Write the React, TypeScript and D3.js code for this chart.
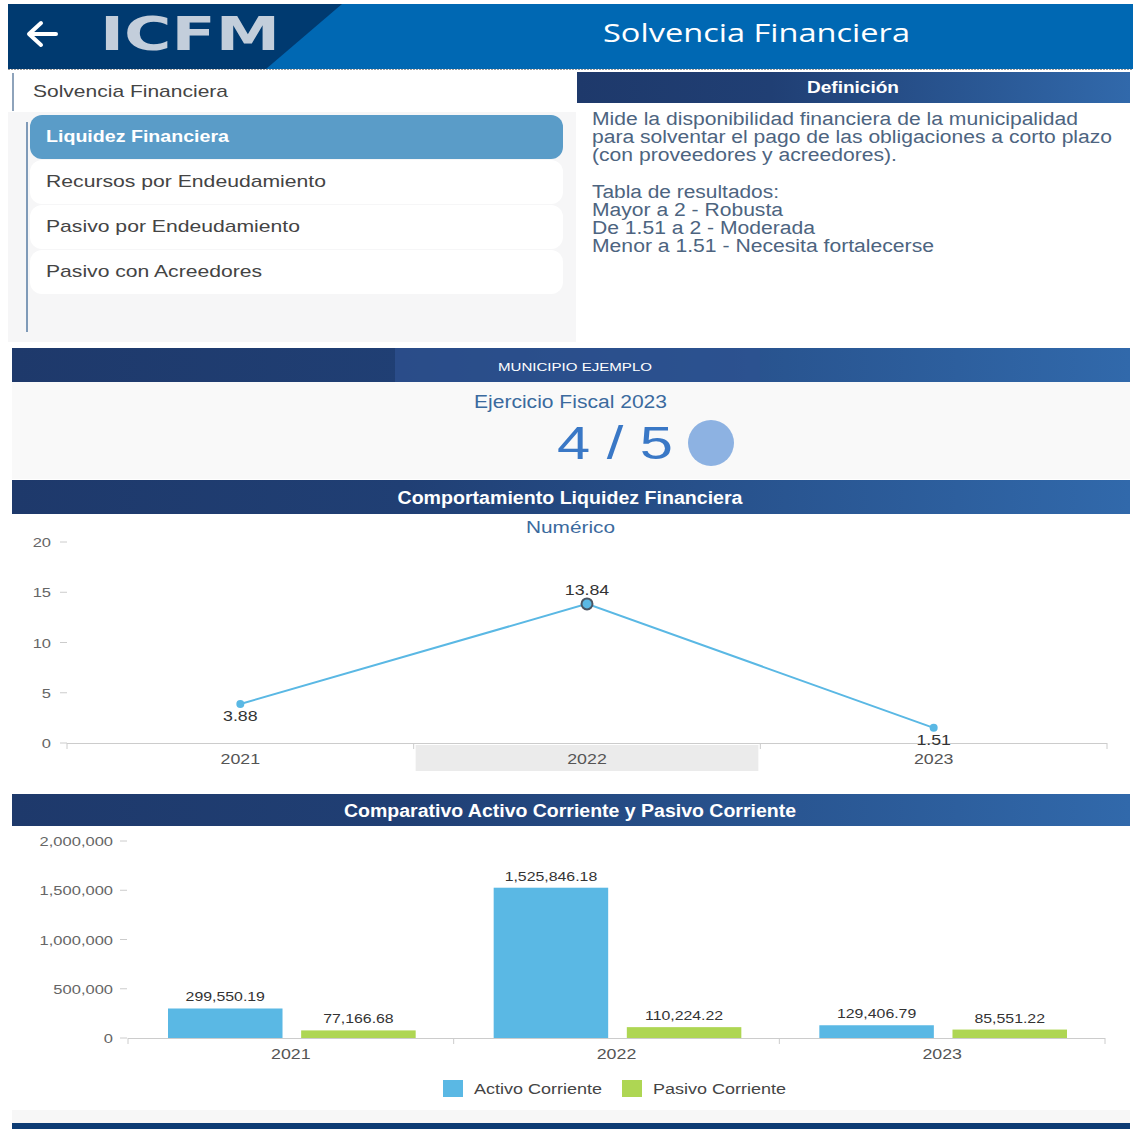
import * as d3 from 'd3';

const years = ['2021', '2022', '2023'];
const liquidez = [3.88, 13.84, 1.51];
const activoCorriente = [299550.19, 1525846.18, 129406.79];
const pasivoCorriente = [77166.68, 110224.22, 85551.22];
const seriesNames = ['Activo Corriente', 'Pasivo Corriente'];
const lineTicks = [0, 5, 10, 15, 20];
const barTicks = [0, 500000, 1000000, 1500000, 2000000];
const menuItems = ['Liquidez Financiera', 'Recursos por Endeudamiento', 'Pasivo por Endeudamiento', 'Pasivo con Acreedores'];
const definicion = [
    'Mide la disponibilidad financiera de la municipalidad',
    'para solventar el pago de las obligaciones a corto plazo',
    '(con proveedores y acreedores).',
    '',
    'Tabla de resultados:',
    'Mayor a 2 - Robusta',
    'De 1.51 a 2 - Moderada',
    'Menor a 1.51 - Necesita fortalecerse',
];
const defWidths = [486, 520, 305, 0, 187, 191, 223, 342];

const COLORS = ['#5ab8e4', '#aed653'];
const FONT = '"Liberation Sans", Arial, sans-serif';
const W = 1133, H = 1129;
const SX = 1.27; // the page is a bit wide, chart texts are stretched

// text stretched horizontally around its anchor
function SText({ x, y, s = SX, children, ...rest }: any) {
    return (
        <text transform={`translate(${x},${y}) scale(${s},1)`} fontFamily={FONT} {...rest}>{children}</text>
    );
}

function SectionBar({ y, h, title, width }: { y: number; h: number; title: string; width: number }) {
    return (
        <g>
            <rect x={12} y={y} width={1118} height={h} fill="url(#secGrad)" />
            <text x={570 - width / 2} y={y + h / 2 + 6.5} fill="#fff" fontSize={18}
                fontWeight={700} fontFamily={FONT} textLength={width} lengthAdjust="spacingAndGlyphs">{title}</text>
        </g>
    );
}

export default function App() {
    // line chart scales
    const lx = d3.scaleBand().domain(years).range([67, 1107]);
    const ly = d3.scaleLinear().domain([0, 20]).range([743, 542]);
    const line = d3.line<number>().x((_, i) => lx(years[i])! + lx.bandwidth() / 2).y(d => ly(d));

    // bar chart scales
    const bx = d3.scaleBand().domain(years).range([128, 1105]);
    const bs = d3.scaleBand().domain(seriesNames).range([40, bx.bandwidth() - 38]).paddingInner(0.14);
    const by = d3.scaleLinear().domain([0, 2000000]).range([1038, 841]);
    const fmt = d3.format(',.2f');
    const fmtTick = d3.format(',');
    const barData = [activoCorriente, pasivoCorriente];

    return (
        <div style={{ position: 'absolute', left: 0, top: 0 }}>
            <svg width={W} height={H} style={{ display: 'block', background: '#fff' }}>
                <defs>
                    <linearGradient id="secGrad" x1="0" x2="1" y1="0" y2="0">
                        <stop offset="0" stopColor="#1e396b" />
                        <stop offset="0.35" stopColor="#203f74" />
                        <stop offset="1" stopColor="#3169ab" />
                    </linearGradient>
                </defs>

                {/* header */}
                <rect x={8} y={4} width={1125} height={65} fill="#0068b3" />
                <path d="M8,4 L342,4 L266,69 L8,69 Z" fill="#003a70" />
                <line x1={8} x2={1133} y1={69.5} y2={69.5} stroke="#999" strokeDasharray="2,1" />
                <path d="M56,34 L30,34 M41,23 L29,34 L41,45" fill="none" stroke="#fff" strokeWidth={4}
                    strokeLinecap="round" strokeLinejoin="round" />
                <text x={100} y={50} fill="#c3cedb" fontSize={46} fontWeight={700} fontFamily='"DejaVu Sans", sans-serif'
                    textLength={180} lengthAdjust="spacingAndGlyphs">ICFM</text>
                <text x={603} y={42} fill="#fff" fontSize={25} fontFamily='"Open Sans", sans-serif'
                    textLength={307} lengthAdjust="spacingAndGlyphs">Solvencia Financiera</text>

                {/* sidebar */}
                <rect x={8} y={112} width={568} height={230} fill="#f6f6f7" />
                <rect x={12} y={73} width={2} height={38} fill="#8ea3bb" />
                <text x={33} y={97} fill="#444" fontSize={17} fontFamily={FONT}
                    textLength={195} lengthAdjust="spacingAndGlyphs">Solvencia Financiera</text>
                <rect x={26} y={122} width={2} height={210} fill="#7f9ab8" />
                {menuItems.map((m, i) => {
                    const top = [115, 160, 205, 250][i];
                    const active = i === 0;
                    const widths = [183, 280, 254, 216];
                    return (
                        <g key={m}>
                            <rect x={30} y={top} width={533} height={44} rx={12}
                                fill={active ? '#5a9cc8' : '#fff'} />
                            <text x={46} y={top + 27} fill={active ? '#fff' : '#444'} fontSize={17}
                                fontWeight={active ? 700 : 400} fontFamily={FONT}
                                textLength={widths[i]} lengthAdjust="spacingAndGlyphs">{m}</text>
                        </g>
                    );
                })}

                {/* definition */}
                <rect x={577} y={72} width={553} height={31} fill="url(#secGrad)" />
                <text x={807} y={93} fill="#fff" fontSize={16} fontWeight={700}
                    fontFamily={FONT} textLength={92} lengthAdjust="spacingAndGlyphs">Definición</text>
                {definicion.map((t, i) => t && (
                    <text key={i} x={592} y={125 + i * 18.2} fill="#4d6480" fontSize={18} fontFamily={FONT}
                        textLength={defWidths[i]} lengthAdjust="spacingAndGlyphs">{t}</text>
                ))}

                {/* municipio */}
                <rect x={12} y={348} width={1118} height={34} fill="url(#secGrad)" />
                <rect x={395} y={348} width={365} height={34} fill="#2e5190" opacity={0.75} />
                <text x={498} y={371} fill="#fff" fontSize={11} fontFamily={FONT}
                    textLength={154} lengthAdjust="spacingAndGlyphs">MUNICIPIO EJEMPLO</text>
                <rect x={12} y={382} width={1118} height={97} fill="#f9f9f9" />
                <text x={474} y={408} fill="#3b6a9e" fontSize={18} fontFamily={FONT}
                    textLength={193} lengthAdjust="spacingAndGlyphs">Ejercicio Fiscal 2023</text>
                <text x={557} y={459} fill="#3a78c6" fontSize={46} fontFamily={FONT}
                    textLength={116} lengthAdjust="spacingAndGlyphs">4 / 5</text>
                <circle cx={711} cy={443} r={23} fill="#8db2e2" />

                {/* line chart */}
                <SectionBar y={480} h={34} title="Comportamiento Liquidez Financiera" width={345} />
                <text x={526} y={533} fill="#3b6a9e" fontSize={17} fontFamily={FONT}
                    textLength={89} lengthAdjust="spacingAndGlyphs">Numérico</text>
                <rect x={lx('2022')! + 2} y={745} width={lx.bandwidth() - 4} height={26} fill="#ebebeb" />
                {lineTicks.map(t => (
                    <g key={t}>
                        <line x1={60} x2={67} y1={ly(t)} y2={ly(t)} stroke="#ccc" />
                        <SText x={51} y={ly(t) + 5} textAnchor="end" fill="#666" fontSize={13}>{t}</SText>
                    </g>
                ))}
                <line x1={67} x2={1107} y1={743.5} y2={743.5} stroke="#ccc" />
                {[...years.map(y => lx(y)!), 1107].map((x, i) => (
                    <line key={i} x1={x} x2={x} y1={743} y2={749} stroke="#ccc" />
                ))}
                {years.map(y => (
                    <SText key={y} x={lx(y)! + lx.bandwidth() / 2} y={764} textAnchor="middle" fill="#555"
                        fontSize={14}>{y}</SText>
                ))}
                <path d={line(liquidez)!} fill="none" stroke="#5ab8e4" strokeWidth={2} />
                {liquidez.map((v, i) => {
                    const cx = lx(years[i])! + lx.bandwidth() / 2;
                    const hi = i === 1;
                    return (
                        <g key={i}>
                            <circle cx={cx} cy={ly(v)} r={hi ? 5.5 : 4} fill="#5ab8e4"
                                stroke={hi ? '#4a5563' : 'none'} strokeWidth={2} />
                            <SText x={cx} y={hi ? ly(v) - 9 : ly(v) + 17} textAnchor="middle" fill="#333"
                                fontSize={14}>{v.toFixed(2)}</SText>
                        </g>
                    );
                })}

                {/* bar chart */}
                <SectionBar y={794} h={32} title="Comparativo Activo Corriente y Pasivo Corriente" width={452} />
                {barTicks.map(t => (
                    <g key={t}>
                        <line x1={120} x2={127} y1={by(t)} y2={by(t)} stroke="#ccc" />
                        <SText x={113} y={by(t) + 5} textAnchor="end" fill="#666" fontSize={13}>{fmtTick(t)}</SText>
                    </g>
                ))}
                <line x1={128} x2={1105} y1={1038.5} y2={1038.5} stroke="#ccc" />
                {[...years.map(y => bx(y)!), 1105].map((x, i) => (
                    <line key={i} x1={x} x2={x} y1={1038} y2={1044} stroke="#ccc" />
                ))}
                {years.map((y, i) => (
                    <g key={y}>
                        {barData.map((s, j) => {
                            const x = bx(y)! + bs(seriesNames[j])!;
                            return (
                                <g key={j}>
                                    <rect x={x} y={by(s[i])} width={bs.bandwidth()} height={by(0) - by(s[i])} fill={COLORS[j]} />
                                    <SText x={x + bs.bandwidth() / 2} y={by(s[i]) - 7} textAnchor="middle" fill="#333"
                                        fontSize={12.5}>{fmt(s[i])}</SText>
                                </g>
                            );
                        })}
                        <SText x={bx(y)! + bx.bandwidth() / 2} y={1059} textAnchor="middle" fill="#555"
                            fontSize={14}>{y}</SText>
                    </g>
                ))}

                {/* legend */}
                {seriesNames.map((n, i) => {
                    const x0 = [443, 622][i];
                    return (
                        <g key={n}>
                            <rect x={x0} y={1080} width={20} height={17} fill={COLORS[i]} />
                            <SText x={x0 + 31} y={1094} fill="#444" fontSize={15} s={1.2}>{n}</SText>
                        </g>
                    );
                })}
                <rect x={12} y={1110} width={1118} height={13} fill="#f7f7f7" />
                <rect x={12} y={1123} width={1118} height={6} fill="#0d3c74" />
            </svg>
        </div>
    );
}
